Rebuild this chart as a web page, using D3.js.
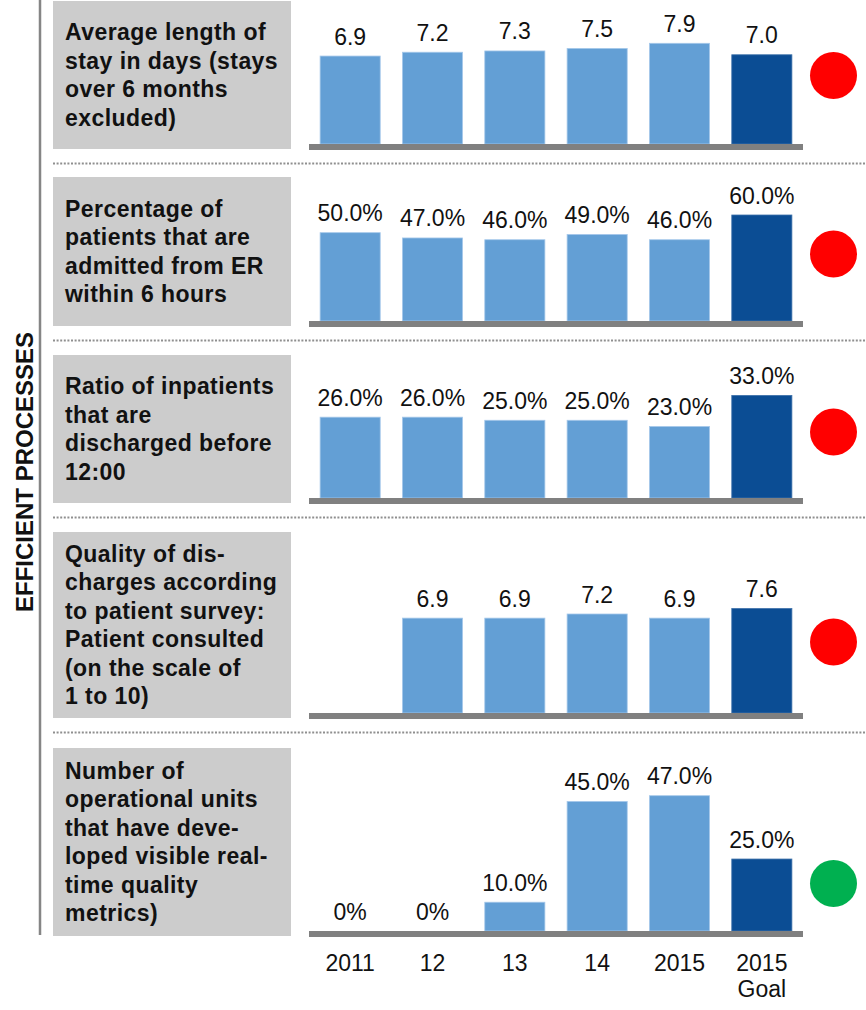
<!DOCTYPE html>
<html>
<head>
<meta charset="utf-8">
<script src="https://cdn.jsdelivr.net/npm/d3@7"></script>
<style>
  html, body { margin: 0; padding: 0; background: #fff; }
  svg { display: block; font-family: "Liberation Sans", Arial, sans-serif; }
</style>
</head>
<body>
<div id="chart"></div>
<script>
//* ------------------------------ DATA ---------------------------------------------- //
const categories = ["2011", "12", "13", "14", "2015", "2015 Goal"];

const titles = [
  ["Average length of", "stay in days (stays", "over 6 months", "excluded)"],
  ["Percentage of", "patients that are", "admitted from ER", "within 6 hours"],
  ["Ratio of inpatients", "that are", "discharged before", "12:00"],
  ["Quality of dis-", "charges according", "to patient survey:", "Patient consulted", "(on the scale of", "1 to 10)"],
  ["Number of", "operational units", "that have deve-", "loped visible real-", "time quality", "metrics)"]
];

const avgStay = [6.9, 7.2, 7.3, 7.5, 7.9, 7.0];
const admittedFromER = [50, 47, 46, 49, 46, 60];
const dischargedBefore12 = [26, 26, 25, 25, 23, 33];
const dischargeQuality = [null, 6.9, 6.9, 7.2, 6.9, 7.6];
const realtimeMetrics = [0, 0, 10, 45, 47, 25];

const series = [avgStay, admittedFromER, dischargedBefore12, dischargeQuality, realtimeMetrics];
const isPercent = [false, true, true, false, true];
const goalStatus = ["missed", "missed", "missed", "missed", "met"];

//* ------------------------------ CONSTANTS ----------------------------------------- //
const width = 866;
const height = 1010;

// box top / bottom, tallest bar in px, status dot centre
const panels = [
  {top: 1, bottom: 149, barMax: 100.7, dotY: 75.5},
  {top: 177, bottom: 326, barMax: 106, dotY: 254},
  {top: 355, bottom: 503, barMax: 102.6, dotY: 432},
  {top: 532, bottom: 718, barMax: 104.5, dotY: 642},
  {top: 748, bottom: 936, barMax: 135.3, dotY: 883.5}
];

const lightBlue = "#639fd5";
const darkBlue = "#0b4d94";
const statusColor = {missed: "#ff0000", met: "#00b050"};

const svg = d3.select("#chart").append("svg")
  .attr("width", width)
  .attr("height", height);

const x = d3.scaleBand()
  .domain(categories)
  .range([309, 803])
  .paddingInner(0.27)
  .paddingOuter(0.135);

const fmtNum = d3.format(".1f");
function fmtValue(v, pct) {
  if (!pct) return fmtNum(v);
  return v === 0 ? "0%" : fmtNum(v) + "%";
}
//* ------------------------------ END CONSTANTS ------------------------------------- //

//* ------------------------------ DRAW ---------------------------------------------- //
// side label + vertical rule
svg.append("line")
  .attr("x1", 40).attr("x2", 40)
  .attr("y1", 0).attr("y2", 935)
  .attr("stroke", "#858585")
  .attr("stroke-width", 2.5);

svg.append("text")
  .attr("transform", "translate(33,472) rotate(-90)")
  .attr("text-anchor", "middle")
  .attr("font-size", 24)
  .attr("font-weight", "bold")
  .attr("fill", "#111")
  .text("EFFICIENT PROCESSES");

panels.forEach((p, i) => {
  const g = svg.append("g");
  const values = series[i];
  const base = p.bottom - 5;

  // grey title box
  g.append("rect")
    .attr("x", 53).attr("y", p.top)
    .attr("width", 238).attr("height", p.bottom - p.top)
    .attr("fill", "#cccccc");

  const lines = titles[i];
  const lineH = 28.5;
  const firstBase = (p.top + p.bottom) / 2 - ((lines.length - 1) * lineH) / 2 + 8;
  g.append("text")
    .attr("font-size", 23)
    .attr("font-weight", "bold")
    .attr("letter-spacing", 0.45)
    .attr("fill", "#111")
    .selectAll("tspan")
    .data(lines)
    .join("tspan")
      .attr("x", 65)
      .attr("y", (d, j) => firstBase + j * lineH)
      .text(d => d);

  // bars
  const y = d3.scaleLinear()
    .domain([0, d3.max(values)])
    .range([base, base - p.barMax]);

  const rows = categories.map((c, j) => ({cat: c, value: values[j], goal: j === categories.length - 1}))
    .filter(d => d.value !== null);

  g.selectAll(".bar")
    .data(rows)
    .join("rect")
      .attr("class", "bar")
      .attr("x", d => x(d.cat))
      .attr("y", d => y(d.value))
      .attr("width", x.bandwidth())
      .attr("height", d => base - y(d.value))
      .attr("fill", d => d.goal ? darkBlue : lightBlue)
      .attr("stroke", d => d.goal ? "#3f72aa" : "#a6c8ea")
      .attr("stroke-width", 0.8);

  g.selectAll(".val")
    .data(rows)
    .join("text")
      .attr("class", "val")
      .attr("x", d => x(d.cat) + x.bandwidth() / 2)
      .attr("y", d => y(d.value) - 11.5)
      .attr("text-anchor", "middle")
      .attr("font-size", 23)
      .attr("fill", "#111")
      .text(d => fmtValue(d.value, isPercent[i]));

  // baseline
  g.append("rect")
    .attr("x", 309).attr("y", base)
    .attr("width", 494).attr("height", 6)
    .attr("fill", "#808080");

  // status dot
  g.append("circle")
    .attr("cx", 833.5)
    .attr("cy", p.dotY)
    .attr("r", 23.5)
    .attr("fill", statusColor[goalStatus[i]]);

  // dotted separator
  if (i < panels.length - 1) {
    g.append("line")
      .attr("x1", 53).attr("x2", width)
      .attr("y1", p.bottom + 14.5).attr("y2", p.bottom + 14.5)
      .attr("stroke", "#8f8f8f")
      .attr("stroke-width", 2)
      .attr("stroke-dasharray", "2,1.6");
  }
});

// category axis under the last panel
const lastBase = panels[panels.length - 1].bottom;
const axis = svg.append("g")
  .attr("transform", `translate(0,${lastBase})`)
  .call(d3.axisBottom(x).tickSize(0).tickPadding(0));

axis.select(".domain").remove();
axis.selectAll("text").each(function(d) {
  const t = d3.select(this)
    .attr("font-size", 23)
    .attr("font-family", "Liberation Sans, Arial, sans-serif")
    .attr("fill", "#111")
    .attr("y", 35)
    .attr("dy", null)
    .text(null);
  d.split(" ").forEach((w, k) => {
    t.append("tspan")
      .attr("x", 0)
      .attr("y", 35 + k * 26)
      .text(w);
  });
});
//* ------------------------------ END DRAW ------------------------------------------ //
</script>
</body>
</html>
